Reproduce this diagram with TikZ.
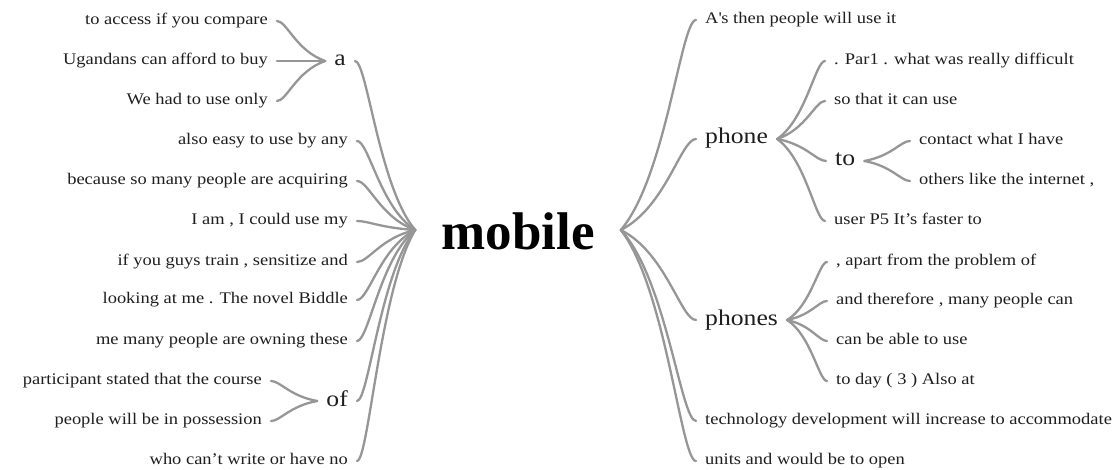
\documentclass[tikz,border=0pt]{standalone}
\usepackage{fontspec}
\setmainfont[FakeStretch=1.14]{Liberation Serif}
\newfontfamily\bigfont{Liberation Serif}
\usetikzlibrary{calc}
\definecolor{edgegray}{RGB}{150,150,150}
\definecolor{txt}{RGB}{30,30,30}
\tikzset{
  edge/.style={draw=edgegray, line width=2.3pt, line cap=round},
  leaf/.style={inner xsep=9pt, inner ysep=0pt, text height=7.5pt, text depth=0pt,
    font=\fontsize{16.2}{18}\selectfont, text=txt},
  mid/.style={leaf, text height=10pt, font=\fontsize{22.5}{24}\selectfont},
  root/.style={inner xsep=26pt, inner ysep=0pt, text height=38pt, text depth=0pt,
    font=\bigfont\bfseries\fontsize{53}{56}\selectfont, text=black},
}
\newcommand\wlink[2]{\draw[edge] let \p1=(#1), \p2=(#2) in (\p1) .. controls
  ({\x1+0.6*(\x2-\x1)},{\y1+0.25*(\y2-\y1)}) and ({\x1+0.8*(\x2-\x1)},{\y2}) .. (\p2);}
\begin{document}
\begin{tikzpicture}[x=1pt,y=-1pt]
\useasboundingbox (0,0) rectangle (1115,470);
\node[root] (mobile) at (518,230) {mobile};
% left side
\node[leaf,anchor=east] (l1) at (277,21) {to access if you compare};
\node[leaf,anchor=east] (l2) at (277,61) {Ugandans can afford to buy};
\node[leaf,anchor=east] (l3) at (277,101) {We had to use only};
\node[mid,anchor=east] (a) at (355,61) {a};
\node[leaf,anchor=east] (l4) at (357,141) {also easy to use by any};
\node[leaf,anchor=east] (l5) at (357,181) {because so many people are acquiring};
\node[leaf,anchor=east] (l6) at (357,221) {I am , I could use my};
\node[leaf,anchor=east] (l7) at (357,262) {if you guys train , sensitize and};
\node[leaf,anchor=east] (l8) at (357,300) {looking at me . The novel Biddle};
\node[leaf,anchor=east] (l9) at (357,341) {me many people are owning these};
\node[mid,anchor=east] (of) at (357,401) {of};
\node[leaf,anchor=east] (l10) at (271,381) {participant stated that the course};
\node[leaf,anchor=east] (l11) at (271,421) {people will be in possession};
\node[leaf,anchor=east] (l12) at (357,461) {who can’t write or have no};
% right side
\node[leaf,anchor=west] (r1) at (696,20) {A\textquotesingle s then people will use it};
\node[mid,anchor=west] (phone) at (696,139) {phone};
\node[leaf,anchor=west] (r2) at (825,61) {. Par1 . what was really difficult};
\node[leaf,anchor=west] (r3) at (825,101) {so that it can use};
\node[mid,anchor=west] (to) at (826,161) {to};
\node[leaf,anchor=west] (r4) at (910,141) {contact what I have};
\node[leaf,anchor=west] (r5) at (910,181) {others like the internet ,};
\node[leaf,anchor=west] (r6) at (825,221) {user P5 It’s faster to};
\node[mid,anchor=west] (phones) at (696,320) {phones};
\node[leaf,anchor=west] (r7) at (827,262) {, apart from the problem of};
\node[leaf,anchor=west] (r8) at (827,301) {and therefore , many people can};
\node[leaf,anchor=west] (r9) at (827,341) {can be able to use};
\node[leaf,anchor=west] (r10) at (827,381) {to day ( 3 ) Also at};
\node[leaf,anchor=west] (r11) at (696,421) {technology development will increase to accommodate};
\node[leaf,anchor=west] (r12) at (696,461) {units and would be to open};
% connectors left
\foreach \k in {a,l4,l5,l6,l7,l8,l9,of,l12} {\wlink{mobile.west}{\k.east}}
\foreach \k in {l1,l2,l3} {\wlink{a.west}{\k.east}}
\foreach \k in {l10,l11} {\wlink{of.west}{\k.east}}
% connectors right
\foreach \k in {r1,phone,phones,r11,r12} {\wlink{mobile.east}{\k.west}}
\foreach \k in {r2,r3,to,r6} {\wlink{phone.east}{\k.west}}
\foreach \k in {r4,r5} {\wlink{to.east}{\k.west}}
\foreach \k in {r7,r8,r9,r10} {\wlink{phones.east}{\k.west}}
\end{tikzpicture}
\end{document}
